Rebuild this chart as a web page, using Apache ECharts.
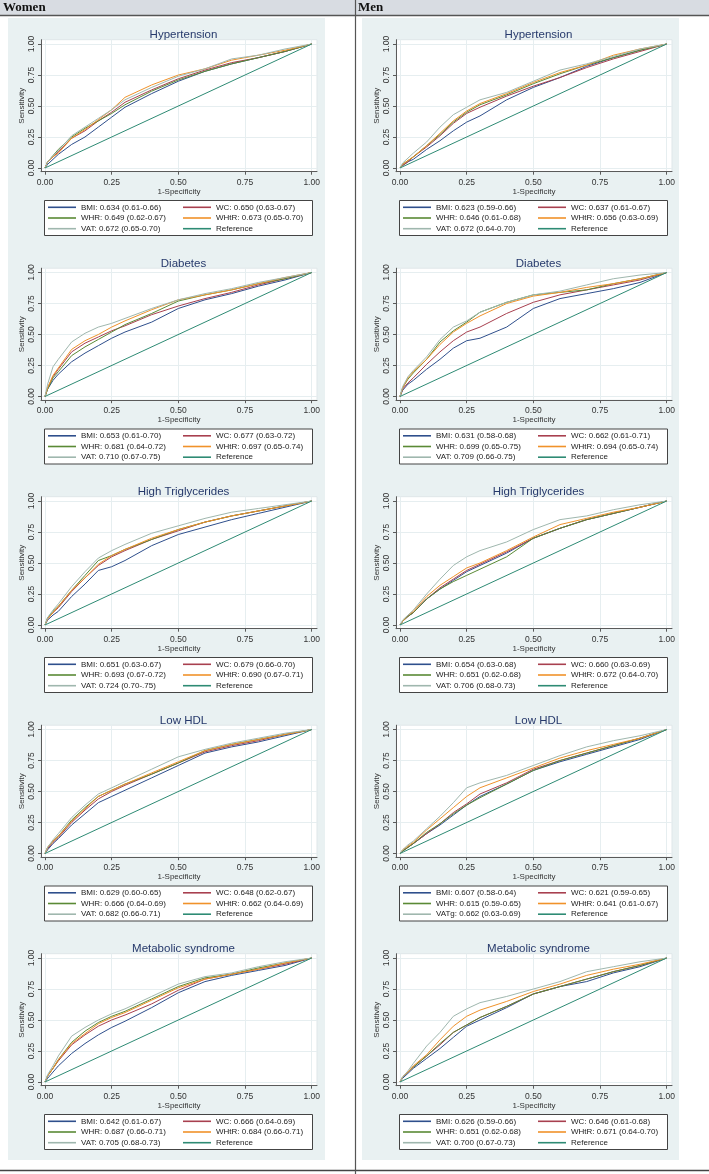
<!DOCTYPE html>
<html><head><meta charset="utf-8">
<script src="https://cdn.jsdelivr.net/npm/echarts@6/dist/echarts.min.js"></script>
<style>html,body{margin:0;padding:0;background:#fff}#c{width:709px;height:1174px}</style>
</head><body><div id="c"></div>
<script>
// ---------- DATA ----------
const columnTitles = ['Women', 'Men'];
const panelTitles = ['Hypertension', 'Diabetes', 'High Triglycerides', 'Low HDL', 'Metabolic syndrome'];
const metrics = ['BMI', 'WC', 'WHR', 'WHtR', 'VAT', 'Reference'];
const tickValues = [0, 0.25, 0.5, 0.75, 1];
const fpr = [0, 0.01, 0.03, 0.05, 0.1, 0.15, 0.2, 0.25, 0.3, 0.4, 0.5, 0.6, 0.7, 0.8, 0.9, 1];

// Women – Hypertension
const hypW_BMI  = [0,.03,.07,.11,.19,.25,.33,.41,.49,.60,.70,.78,.84,.89,.94,1];
const hypW_WC   = [0,.05,.09,.13,.24,.30,.38,.45,.53,.63,.72,.79,.85,.89,.94,1];
const hypW_WHR  = [0,.05,.10,.15,.25,.32,.38,.44,.51,.62,.71,.78,.84,.89,.94,1];
const hypW_WHtR = [0,.05,.09,.12,.24,.31,.39,.47,.57,.67,.75,.80,.87,.91,.95,1];
const hypW_VAT  = [0,.05,.10,.14,.26,.33,.40,.47,.55,.65,.74,.80,.88,.91,.96,1];
const hypW_labels = ['BMI: 0.634 (0.61-0.66)','WC: 0.650 (0.63-0.67)','WHR: 0.649 (0.62-0.67)','WHtR: 0.673 (0.65-0.70)','VAT: 0.672 (0.65-0.70)','Reference'];
// Men – Hypertension
const hypM_BMI  = [0,.02,.05,.07,.15,.22,.30,.37,.42,.55,.65,.73,.82,.89,.95,1];
const hypM_WC   = [0,.02,.05,.09,.17,.26,.36,.44,.49,.58,.66,.73,.81,.88,.94,1];
const hypM_WHR  = [0,.03,.06,.09,.18,.27,.37,.45,.51,.59,.68,.76,.83,.89,.95,1];
const hypM_WHtR = [0,.03,.06,.09,.18,.28,.38,.46,.52,.60,.69,.77,.83,.91,.96,1];
const hypM_VAT  = [0,.04,.08,.12,.21,.33,.43,.49,.55,.61,.70,.79,.84,.90,.96,1];
const hypM_labels = ['BMI: 0.623 (0.59-0.66)','WC: 0.637 (0.61-0.67)','WHR: 0.646 (0.61-0.68)','WHtR: 0.656 (0.63-0.69)','VAT: 0.672 (0.64-0.70)','Reference'];
// Women – Diabetes
const diaW_BMI  = [0,.06,.13,.18,.28,.35,.41,.47,.52,.60,.71,.78,.83,.89,.94,1];
const diaW_WC   = [0,.07,.16,.22,.36,.43,.48,.53,.57,.66,.73,.79,.84,.90,.95,1];
const diaW_WHR  = [0,.06,.15,.20,.33,.40,.46,.52,.58,.67,.77,.82,.86,.91,.95,1];
const diaW_WHtR = [0,.07,.17,.23,.38,.45,.50,.56,.61,.70,.78,.82,.86,.91,.96,1];
const diaW_VAT  = [0,.10,.24,.30,.44,.51,.56,.59,.63,.71,.78,.83,.87,.92,.96,1];
const diaW_labels = ['BMI: 0.653 (0.61-0.70)','WC: 0.677 (0.63-0.72)','WHR: 0.681 (0.64-0.72)','WHtR: 0.697 (0.65-0.74)','VAT: 0.710 (0.67-0.75)','Reference'];
// Men – Diabetes
const diaM_BMI  = [0,.05,.10,.13,.22,.30,.39,.45,.47,.56,.71,.79,.83,.87,.92,1];
const diaM_WC   = [0,.06,.11,.15,.26,.36,.45,.52,.56,.67,.76,.82,.86,.90,.94,1];
const diaM_WHR  = [0,.07,.14,.19,.30,.44,.53,.60,.68,.76,.82,.84,.86,.91,.95,1];
const diaM_WHtR = [0,.07,.15,.20,.30,.42,.52,.59,.65,.75,.81,.84,.88,.91,.95,1];
const diaM_VAT  = [0,.08,.16,.21,.32,.46,.56,.61,.68,.76,.82,.85,.90,.95,.98,1];
const diaM_labels = ['BMI: 0.631 (0.58-0.68)','WC: 0.662 (0.61-0.71)','WHR: 0.699 (0.65-0.75)','WHtR: 0.694 (0.65-0.74)','VAT: 0.709 (0.66-0.75)','Reference'];
// Women – High triglycerides
const tgW_BMI  = [0,.04,.08,.11,.23,.33,.44,.47,.52,.64,.73,.79,.85,.90,.95,1];
const tgW_WC   = [0,.05,.10,.14,.27,.38,.48,.55,.60,.69,.76,.83,.88,.92,.96,1];
const tgW_WHR  = [0,.06,.11,.15,.28,.40,.52,.56,.61,.69,.77,.83,.88,.92,.96,1];
const tgW_WHtR = [0,.05,.10,.15,.28,.38,.49,.56,.61,.70,.77,.83,.88,.92,.96,1];
const tgW_VAT  = [0,.06,.12,.17,.31,.43,.54,.60,.65,.74,.80,.86,.91,.94,.97,1];
const tgW_labels = ['BMI: 0.651 (0.63-0.67)','WC: 0.679 (0.66-0.70)','WHR: 0.693 (0.67-0.72)','WHtR: 0.690 (0.67-0.71)','VAT: 0.724 (0.70-.75)','Reference'];
// Men – High triglycerides
const tgM_BMI  = [0,.03,.07,.10,.21,.29,.36,.43,.48,.58,.70,.78,.85,.90,.95,1];
const tgM_WC   = [0,.03,.07,.10,.21,.30,.37,.44,.49,.59,.70,.78,.85,.90,.95,1];
const tgM_WHR  = [0,.03,.07,.10,.21,.29,.35,.40,.45,.55,.70,.78,.85,.90,.95,1];
const tgM_WHtR = [0,.03,.08,.11,.23,.32,.39,.46,.50,.60,.71,.81,.86,.91,.95,1];
const tgM_VAT  = [0,.04,.08,.12,.25,.37,.48,.55,.60,.67,.77,.85,.88,.93,.97,1];
const tgM_labels = ['BMI: 0.654 (0.63-0.68)','WC: 0.660 (0.63-0.69)','WHR: 0.651 (0.62-0.68)','WHtR: 0.672 (0.64-0.70)','VAT: 0.706 (0.68-0.73)','Reference'];
// Women – Low HDL
const hdlW_BMI  = [0,.03,.08,.12,.23,.32,.41,.46,.51,.61,.71,.81,.86,.90,.95,1];
const hdlW_WC   = [0,.04,.09,.13,.25,.35,.44,.50,.55,.64,.73,.82,.87,.91,.96,1];
const hdlW_WHR  = [0,.05,.10,.14,.27,.37,.46,.51,.56,.64,.73,.83,.88,.92,.96,1];
const hdlW_WHtR = [0,.05,.10,.14,.26,.36,.46,.51,.56,.65,.74,.83,.88,.92,.96,1];
const hdlW_VAT  = [0,.05,.11,.16,.29,.39,.48,.53,.58,.68,.78,.84,.89,.93,.97,1];
const hdlW_labels = ['BMI: 0.629 (0.60-0.65)','WC: 0.648 (0.62-0.67)','WHR: 0.666 (0.64-0.69)','WHtR: 0.662 (0.64-0.69)','VAT: 0.682 (0.66-0.71)','Reference'];
// Men – Low HDL
const hdlM_BMI  = [0,.02,.05,.08,.16,.23,.31,.39,.46,.56,.67,.74,.80,.86,.92,1];
const hdlM_WC   = [0,.02,.05,.08,.16,.24,.33,.40,.48,.57,.68,.75,.81,.87,.93,1];
const hdlM_WHR  = [0,.02,.05,.08,.17,.24,.32,.39,.45,.56,.67,.75,.81,.87,.93,1];
const hdlM_WHtR = [0,.03,.06,.09,.19,.28,.37,.46,.53,.61,.69,.77,.83,.88,.93,1];
const hdlM_VAT  = [0,.03,.07,.10,.20,.30,.41,.53,.57,.63,.71,.79,.86,.91,.95,1];
const hdlM_labels = ['BMI: 0.607 (0.58-0.64)','WC: 0.621 (0.59-0.65)','WHR: 0.615 (0.59-0.65)','WHtR: 0.641 (0.61-0.67)','VATg: 0.662 (0.63-0.69)','Reference'];
// Women – Metabolic syndrome
const metW_BMI  = [0,.03,.08,.13,.23,.31,.38,.44,.49,.60,.72,.81,.86,.90,.94,1];
const metW_WC   = [0,.05,.11,.17,.30,.38,.45,.50,.54,.63,.74,.83,.87,.91,.95,1];
const metW_WHR  = [0,.05,.11,.18,.32,.41,.48,.53,.57,.67,.77,.84,.87,.92,.96,1];
const metW_WHtR = [0,.05,.11,.18,.31,.39,.47,.52,.56,.66,.76,.83,.87,.91,.96,1];
const metW_VAT  = [0,.06,.13,.21,.37,.44,.50,.55,.59,.69,.79,.85,.88,.93,.97,1];
const metW_labels = ['BMI: 0.642 (0.61-0.67)','WC: 0.666 (0.64-0.69)','WHR: 0.687 (0.66-0.71)','WHtR: 0.684 (0.66-0.71)','VAT: 0.705 (0.68-0.73)','Reference'];
// Men – Metabolic syndrome
const metM_BMI  = [0,.03,.07,.11,.19,.27,.36,.45,.50,.60,.71,.77,.81,.88,.93,1];
const metM_WC   = [0,.04,.08,.12,.21,.30,.40,.46,.52,.61,.71,.77,.83,.89,.94,1];
const metM_WHR  = [0,.04,.08,.12,.21,.31,.40,.46,.52,.61,.71,.77,.83,.89,.94,1];
const metM_WHtR = [0,.04,.08,.13,.22,.34,.45,.53,.58,.65,.73,.79,.86,.91,.95,1];
const metM_VAT  = [0,.04,.09,.15,.29,.40,.53,.59,.64,.69,.75,.81,.89,.93,.97,1];
const metM_labels = ['BMI: 0.626 (0.59-0.66)','WC: 0.646 (0.61-0.68)','WHR: 0.651 (0.62-0.68)','WHtR: 0.671 (0.64-0.70)','VAT: 0.700 (0.67-0.73)','Reference'];

const referenceLine = [0, 1];

// ---------- STYLE / LAYOUT ----------
const colors = ['#2f4f8c', '#a8404f', '#5a8a35', '#f0922a', '#9fb7ae', '#2e8b74'];
const FONT = 'Liberation Sans, Arial, sans-serif';
const ROW = 228.5;
const colShift = 355;

const panels = [
  { r: 0, c: 0, curves: [hypW_BMI, hypW_WC, hypW_WHR, hypW_WHtR, hypW_VAT], labels: hypW_labels },
  { r: 0, c: 1, curves: [hypM_BMI, hypM_WC, hypM_WHR, hypM_WHtR, hypM_VAT], labels: hypM_labels },
  { r: 1, c: 0, curves: [diaW_BMI, diaW_WC, diaW_WHR, diaW_WHtR, diaW_VAT], labels: diaW_labels },
  { r: 1, c: 1, curves: [diaM_BMI, diaM_WC, diaM_WHR, diaM_WHtR, diaM_VAT], labels: diaM_labels },
  { r: 2, c: 0, curves: [tgW_BMI, tgW_WC, tgW_WHR, tgW_WHtR, tgW_VAT], labels: tgW_labels },
  { r: 2, c: 1, curves: [tgM_BMI, tgM_WC, tgM_WHR, tgM_WHtR, tgM_VAT], labels: tgM_labels },
  { r: 3, c: 0, curves: [hdlW_BMI, hdlW_WC, hdlW_WHR, hdlW_WHtR, hdlW_VAT], labels: hdlW_labels },
  { r: 3, c: 1, curves: [hdlM_BMI, hdlM_WC, hdlM_WHR, hdlM_WHtR, hdlM_VAT], labels: hdlM_labels },
  { r: 4, c: 0, curves: [metW_BMI, metW_WC, metW_WHR, metW_WHtR, metW_VAT], labels: metW_labels },
  { r: 4, c: 1, curves: [metM_BMI, metM_WC, metM_WHR, metM_WHtR, metM_VAT], labels: metM_labels }
];

const grid = [], xAxis = [], yAxis = [], series = [], title = [], legend = [];
const graphic = [];

// page decoration
graphic.push({ type: 'rect', z: -10, shape: { x: 8, y: 18, width: 317, height: 1142 }, style: { fill: '#e9f1f2' } });
graphic.push({ type: 'rect', z: -10, shape: { x: 362, y: 18, width: 317, height: 1142 }, style: { fill: '#e9f1f2' } });
graphic.push({ type: 'rect', z: -9, shape: { x: 0, y: 0, width: 709, height: 15 }, style: { fill: '#d8dce2' } });
graphic.push({ type: 'line', z: -8, shape: { x1: 0, y1: 15.5, x2: 709, y2: 15.5 }, style: { stroke: '#555', lineWidth: 1.5 } });
graphic.push({ type: 'line', z: -8, shape: { x1: 0, y1: 1170.5, x2: 709, y2: 1170.5 }, style: { stroke: '#444', lineWidth: 1.5 } });
graphic.push({ type: 'line', z: -8, shape: { x1: 355.5, y1: 0, x2: 355.5, y2: 1174 }, style: { stroke: '#555', lineWidth: 1.2 } });
columnTitles.forEach((t, i) => {
  graphic.push({ type: 'text', z: -7, x: 3 + i * colShift, y: 8,
    style: { text: t, fill: '#111', font: 'bold 13px "Liberation Serif", "Times New Roman", serif', textVerticalAlign: 'middle' } });
});

panels.forEach((p, gi) => {
  const ox = p.c * colShift, oy = p.r * ROW;
  grid.push({ left: 41 + ox, top: 39.7 + oy, width: 276, height: 132,
    show: true, backgroundColor: '#ffffff', borderColor: '#dfe7e9', borderWidth: 1 });
  const axisCommon = {
    type: 'value', gridIndex: gi,
    axisLine: { show: true, onZero: false, lineStyle: { color: '#5a5a5a', width: 1 } },
    axisTick: { show: true, length: 3, customValues: tickValues, lineStyle: { color: '#5a5a5a' } },
    splitLine: { show: true, lineStyle: { color: '#e6eef0', width: 1 } },
    nameLocation: 'middle',
    nameTextStyle: { fontSize: 8, color: '#333', fontFamily: FONT }
  };
  xAxis.push(Object.assign({}, axisCommon, {
    min: -0.015, max: 1.02, name: '1-Specificity', nameGap: 15,
    axisLabel: { customValues: tickValues, formatter: v => v.toFixed(2), fontSize: 8.5, color: '#333', fontFamily: FONT, margin: 6 }
  }));
  yAxis.push(Object.assign({}, axisCommon, {
    min: -0.03, max: 1.035, name: 'Sensitivity', nameGap: 14, nameRotate: 90,
    axisLabel: { customValues: tickValues, formatter: v => v.toFixed(2), fontSize: 8.5, color: '#333', fontFamily: FONT, margin: 5, rotate: 90 }
  }));
  title.push({ text: panelTitles[p.r], left: 178.5 + ox, top: 24 + oy, textAlign: 'center',
    textStyle: { fontSize: 11.5, fontWeight: 'normal', color: '#26396b', fontFamily: FONT } });

  p.curves.forEach((vals, k) => {
    series.push({
      type: 'line', name: p.labels[k], xAxisIndex: gi, yAxisIndex: gi,
      data: fpr.map((x, i) => [x, vals[i]]),
      showSymbol: false, symbol: 'none', animation: false, silent: true,
      lineStyle: { color: colors[k], width: 1 }, itemStyle: { color: colors[k] }
    });
  });
  series.push({
    type: 'line', name: 'Reference', xAxisIndex: gi, yAxisIndex: gi,
    data: referenceLine.map(v => [v, v]),
    showSymbol: false, symbol: 'none', animation: false, silent: true,
    lineStyle: { color: colors[5], width: 1 }, itemStyle: { color: colors[5] }
  });

  // legend box
  graphic.push({ type: 'rect', z: -5, shape: { x: 44.5 + ox, y: 200.5 + oy, width: 268, height: 35 },
    style: { fill: '#ffffff', stroke: '#444', lineWidth: 1 } });
  const legCommon = {
    orient: 'vertical', icon: 'rect', itemWidth: 28, itemHeight: 1.6, itemGap: 0.7, padding: 0,
    selectedMode: false, textStyle: { fontSize: 8, lineHeight: 10, color: '#222', fontFamily: FONT }
  };
  legend.push(Object.assign({}, legCommon, { left: 48 + ox, top: 202.3 + oy, data: [p.labels[0], p.labels[2], p.labels[4]] }));
  legend.push(Object.assign({}, legCommon, { left: 183 + ox, top: 202.3 + oy, data: [p.labels[1], p.labels[3], p.labels[5]] }));
});

const chart = echarts.init(document.getElementById('c'), null, { renderer: 'canvas' });
chart.setOption({ animation: false, backgroundColor: '#ffffff', grid, xAxis, yAxis, series, title, legend, graphic });
</script>
</body></html>
